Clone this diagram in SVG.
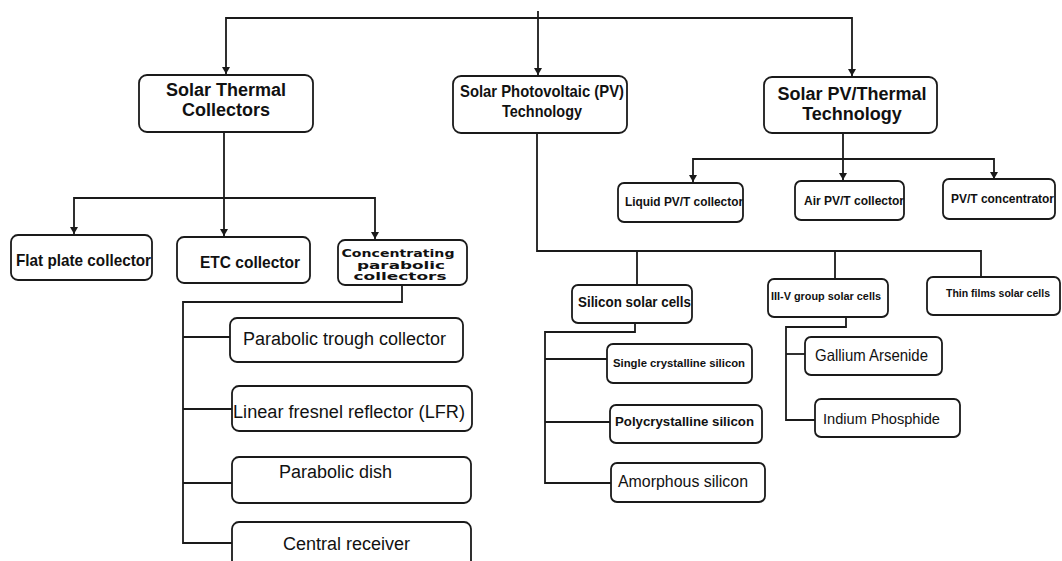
<svg xmlns="http://www.w3.org/2000/svg" width="1062" height="561" viewBox="0 0 1062 561">
<defs>
<marker id="arr" markerUnits="userSpaceOnUse" markerWidth="9" markerHeight="9" refX="4.5" refY="8" orient="0" viewBox="0 0 9 9">
<path d="M0.5,1 L8.5,1 L4.5,8 z" fill="#1a1a1a"/>
</marker>
<style>
.box{fill:#fff;stroke:#1a1a1a;stroke-width:1.8}
.ln{fill:none;stroke:#1a1a1a;stroke-width:1.8}
.b{font-family:"Liberation Sans",Arial,sans-serif;font-weight:bold;fill:#111}
.r{font-family:"Liberation Sans",Arial,sans-serif;fill:#111}
.w{font-family:"DejaVu Sans",Verdana,sans-serif;font-weight:bold;fill:#111}
</style>
</defs>
<rect width="1062" height="561" fill="#fff"/>
<g id="connectors">
<path class="ln" d="M538,18 H226 V74" marker-end="url(#arr)"/>
<path class="ln" d="M538,18 H852 V76" marker-end="url(#arr)"/>
<path class="ln" d="M538,11 V75" marker-end="url(#arr)"/>
<path class="ln" d="M224,132 V236" marker-end="url(#arr)"/>
<path class="ln" d="M224,198 H74 V234" marker-end="url(#arr)"/>
<path class="ln" d="M224,198 H375 V239" marker-end="url(#arr)"/>
<path class="ln" d="M402,285 V302 H183 V543 H232"/>
<path class="ln" d="M183,337 H230 M183,409 H232 M183,483 H232"/>
<path class="ln" d="M537,133 V251 H981 V277"/>
<path class="ln" d="M637,251 V285 M835,251 V279"/>
<path class="ln" d="M843,133 V180" marker-end="url(#arr)"/>
<path class="ln" d="M843,159 H693 V182" marker-end="url(#arr)"/>
<path class="ln" d="M843,159 H994 V179" marker-end="url(#arr)"/>
<path class="ln" d="M635,323 V332 H545 V483 H611"/>
<path class="ln" d="M545,359 H607 M545,422 H610"/>
<path class="ln" d="M846,317 V327 H786 V420 H815"/>
<path class="ln" d="M786,354 H805"/>
</g>
<g id="thermal">
<rect class="box" x="139" y="75" width="174" height="57" rx="8"/>
<text class="b" x="226" y="96" font-size="18" text-anchor="middle">Solar Thermal</text>
<text class="b" x="226" y="116" font-size="18" text-anchor="middle">Collectors</text>
</g>
<g id="pv">
<rect class="box" x="453" y="76" width="174" height="57" rx="8"/>
<text class="b" x="460" y="97" font-size="17" textLength="164" lengthAdjust="spacingAndGlyphs">Solar Photovoltaic (PV)</text>
<text class="b" x="502" y="117" font-size="17" textLength="80" lengthAdjust="spacingAndGlyphs">Technology</text>
</g>
<g id="pvt">
<rect class="box" x="764" y="77" width="173" height="56" rx="8"/>
<text class="b" x="852" y="100" font-size="18" text-anchor="middle">Solar PV/Thermal</text>
<text class="b" x="852" y="120" font-size="18" text-anchor="middle">Technology</text>
</g>
<g id="flat">
<rect class="box" x="11" y="235" width="141" height="45" rx="7"/>
<text class="b" x="16" y="266" font-size="17" textLength="135" lengthAdjust="spacingAndGlyphs">Flat plate collector</text>
</g>
<g id="etc">
<rect class="box" x="177" y="237" width="133" height="46" rx="7"/>
<text class="b" x="200" y="268" font-size="17" textLength="100" lengthAdjust="spacingAndGlyphs">ETC collector</text>
</g>
<g id="concentrating">
<rect class="box" x="338" y="240" width="129" height="45" rx="7"/>
<text class="w" x="398" y="257" font-size="11" text-anchor="middle" textLength="113" lengthAdjust="spacingAndGlyphs">Concentrating</text>
<text class="w" x="401" y="269" font-size="11" text-anchor="middle" textLength="88" lengthAdjust="spacingAndGlyphs">parabolic</text>
<text class="w" x="400" y="280" font-size="11" text-anchor="middle" textLength="93" lengthAdjust="spacingAndGlyphs">collectors</text>
</g>
<g id="trough">
<rect class="box" x="230" y="318" width="233" height="44" rx="7"/>
<text class="r" x="243" y="345" font-size="18">Parabolic trough collector</text>
</g>
<g id="lfr">
<rect class="box" x="232" y="386" width="240" height="45" rx="7"/>
<text class="r" x="233" y="418" font-size="18" textLength="232" lengthAdjust="spacingAndGlyphs">Linear fresnel reflector (LFR)</text>
</g>
<g id="dish">
<rect class="box" x="232" y="457" width="239" height="46" rx="7"/>
<text class="r" x="279" y="478" font-size="18">Parabolic dish</text>
</g>
<g id="central">
<rect class="box" x="232" y="522" width="239" height="50" rx="7"/>
<text class="r" x="283" y="550" font-size="18">Central receiver</text>
</g>
<g id="silicon">
<rect class="box" x="572" y="285" width="120" height="38" rx="6"/>
<text class="b" x="578" y="307" font-size="15" textLength="113" lengthAdjust="spacingAndGlyphs">Silicon solar cells</text>
</g>
<g id="iiiv">
<rect class="box" x="768" y="279" width="120" height="38" rx="6"/>
<text class="b" x="771" y="300" font-size="11" textLength="110" lengthAdjust="spacingAndGlyphs">III-V group solar cells</text>
</g>
<g id="thin">
<rect class="box" x="927" y="277" width="133" height="38" rx="6"/>
<text class="b" x="946" y="297" font-size="11" textLength="104" lengthAdjust="spacingAndGlyphs">Thin films solar cells</text>
</g>
<g id="single">
<rect class="box" x="607" y="344" width="145" height="39" rx="6"/>
<text class="b" x="613" y="367" font-size="11" textLength="132" lengthAdjust="spacingAndGlyphs">Single crystalline silicon</text>
</g>
<g id="poly">
<rect class="box" x="610" y="405" width="152" height="38" rx="6"/>
<text class="b" x="615" y="426" font-size="12" textLength="139" lengthAdjust="spacingAndGlyphs">Polycrystalline silicon</text>
</g>
<g id="amorphous">
<rect class="box" x="611" y="463" width="154" height="39" rx="6"/>
<text class="r" x="618" y="487" font-size="16" textLength="130" lengthAdjust="spacingAndGlyphs">Amorphous silicon</text>
</g>
<g id="gallium">
<rect class="box" x="805" y="337" width="137" height="38" rx="6"/>
<text class="r" x="815" y="361" font-size="16.5" textLength="113" lengthAdjust="spacingAndGlyphs">Gallium Arsenide</text>
</g>
<g id="indium">
<rect class="box" x="815" y="399" width="145" height="38" rx="6"/>
<text class="r" x="823" y="424" font-size="15" textLength="117" lengthAdjust="spacingAndGlyphs">Indium Phosphide</text>
</g>
<g id="liquid">
<rect class="box" x="618" y="183" width="125" height="39" rx="6"/>
<text class="b" x="625" y="206" font-size="12" textLength="118" lengthAdjust="spacingAndGlyphs">Liquid PV/T collector</text>
</g>
<g id="air">
<rect class="box" x="795" y="181" width="109" height="39" rx="6"/>
<text class="b" x="804" y="205" font-size="12" textLength="100" lengthAdjust="spacingAndGlyphs">Air PV/T collector</text>
</g>
<g id="concentrator">
<rect class="box" x="943" y="179" width="112" height="40" rx="6"/>
<text class="b" x="951" y="203" font-size="12" textLength="103" lengthAdjust="spacingAndGlyphs">PV/T concentrator</text>
</g>
</svg>
